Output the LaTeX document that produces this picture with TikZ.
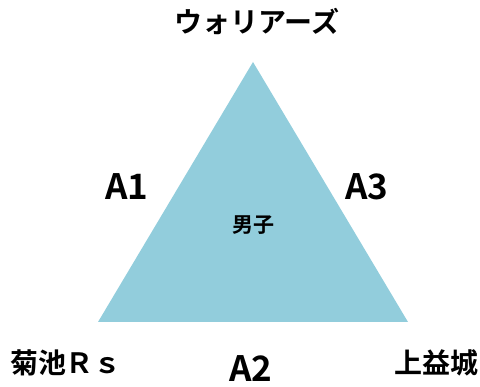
\documentclass[tikz,border=0pt]{standalone}
\usepackage{fontspec}
\setmainfont{Noto Sans CJK JP}[BoldFont={Noto Sans CJK JP Bold}]
\definecolor{tri}{HTML}{92CDDC}
\begin{document}
\begin{tikzpicture}[x=1pt,y=1pt,
  lbl/.style={inner sep=0pt,font=\bfseries},
  big/.style={inner sep=0pt,font=\bfseries\fontsize{35}{40}\selectfont},
  corner/.style={inner sep=0pt,font=\bfseries\fontsize{28}{32}\selectfont}]
\useasboundingbox (0,0) rectangle (480,387);
\coordinate (top) at (253,325);
\coordinate (bl) at (98,65);
\coordinate (br) at (408,65);
\fill[tri] (top) -- (bl) -- (br) -- cycle;
\node[corner] (war) at (257,366) {ウォリアーズ};
\node[big] (a1) at (127,200) {A1};
\node[big] (a3) at (367,200) {A3};
\node[big] (a2) at (251,18) {A2};
\node[lbl,font=\bfseries\fontsize{21}{24}\selectfont] (boys) at (253,162) {男子};
\node[corner] (kiku) at (66,24) {菊池Ｒｓ};
\node[corner] (kami) at (436,24) {上益城};
\end{tikzpicture}
\end{document}
